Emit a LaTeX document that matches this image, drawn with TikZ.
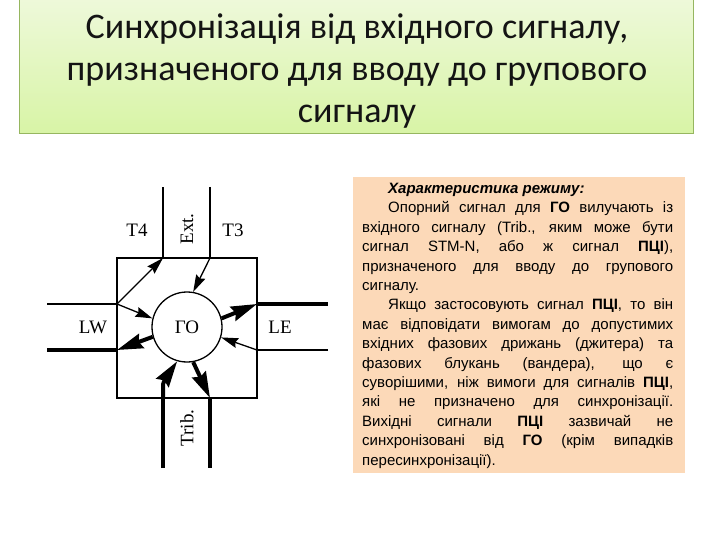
\documentclass[tikz,border=0pt]{standalone}
\usepackage{fontspec}
\setmainfont{Liberation Serif}
\newfontfamily\titlefont{Carlito}
\newfontfamily\panelfont{Liberation Sans}
\usetikzlibrary{arrows.meta}
\definecolor{titletop}{RGB}{238,249,218}
\definecolor{titlebot}{RGB}{216,244,166}
\definecolor{titleline}{RGB}{150,182,96}
\definecolor{panelfill}{RGB}{252,217,184}
\tikzset{
  sig/.style={line width=1.3pt},
  bus/.style={line width=4pt},
  sigarr/.style={sig, -{Stealth[length=17pt,width=10pt,inset=2pt]}},
  busarr/.style={line width=4pt, -{Stealth[length=26pt,width=15pt,inset=3pt]}},
  lbl/.style={font=\fontsize{19}{19}\selectfont, inner sep=0pt},
}
\begin{document}
\begin{tikzpicture}[x=1pt,y=-1pt]
			\useasboundingbox (0,0) rectangle (720,540);
			% title
			\draw[titleline, top color=titletop, bottom color=titlebot] (19,-2) rectangle (693,133);
			\node[font=\titlefont\fontsize{36}{42}\selectfont, align=center, text=black!92] (title) at (357,71)
				{Синхронізація від вхідного сигналу,\\ призначеного для вводу до групового\\ сигналу};
			% block
			\node[draw, line width=1.5pt, minimum size=140pt, inner sep=0pt] (blk) at (187,328) {};
			\node[draw, sig, circle, minimum size=70pt, inner sep=0pt, font=\fontsize{19}{19}\selectfont] (go) at (187,327) {ГО};
			\coordinate (t4) at (163,258);   \coordinate (t4out) at (163,187);
			\coordinate (t3) at (210,258);   \coordinate (t3in) at (210,187);
			\coordinate (lwa) at (117,304);  \coordinate (lwin) at (47,304);
			\coordinate (lwb) at (117,350);  \coordinate (lwout) at (47,350);
			\coordinate (lea) at (257,304);  \coordinate (leout) at (328,304);
			\coordinate (leb) at (257,350);  \coordinate (lein) at (328,350);
			\coordinate (triba) at (163,398); \coordinate (tribin) at (163,468);
			\coordinate (tribb) at (210,398); \coordinate (tribout) at (210,468);
			\draw[sig] (t4) -- (t4out);
			\draw[sig] (t3in) -- (t3);
			\draw[sig] (lwin) -- (lwa);
			\draw[bus] (lwb) -- (lwout);
			\draw[bus] (lea) -- (leout);
			\draw[sig] (lein) -- (leb);
			\draw[bus] (tribin) -- (triba);
			\draw[bus] (tribb) -- (tribout);
			%
			\draw[sigarr] (lwa) -- (t4);
			\draw[sigarr] (t3) -- (go.80);
			\draw[sigarr] (lwa) -- (go.166);
			\draw[sigarr] (leb) -- (go.343);
			\draw[busarr] (go.196) -- (lwb);
			\draw[busarr] (go.14) -- (lea);
			\draw[busarr] (triba) .. controls +(0,-16) .. (go.254);
			\draw[busarr] (go.280) -- (tribb);
			%
			\node[lbl] (t4lbl) at (137,230) {T4};
			\node[lbl, rotate=90] (extlbl) at (187,229) {Ext.};
			\node[lbl] (t3lbl) at (233,230) {T3};
			\node[lbl] (lwlbl) at (93,327) {LW};
			\node[lbl] (lelbl) at (280,327) {LE};
			\node[lbl, rotate=90] (triblbl) at (187,428) {Trib.};
			% mode text
			\fill[panelfill] (353,177) rectangle (685,473);
			\node[anchor=north west, text width=311pt, inner sep=0pt, align=justify,
				font=\panelfont\fontsize{15}{19.4}\selectfont] (mode) at (362,183)
				{\hyphenpenalty=10000\exhyphenpenalty=10000\tolerance=10000\parindent=0pt
				\hspace*{26pt}\textbf{\textit{Характеристика режиму:}}\newline
				\hspace*{26pt}Опорний сигнал для \textbf{ГО} вилучають із\linebreak
				вхідного сигналу (Trib., яким може бути\linebreak
				сигнал STM-N, або ж сигнал \textbf{ПЦІ}),\linebreak
				призначеного для вводу до групового\linebreak
				сигналу.\par
				\hspace*{26pt}Якщо застосовують сигнал \textbf{ПЦІ}, то він\linebreak
				має відповідати вимогам до допустимих\linebreak
				вхідних фазових дрижань (джитера) та\linebreak
				фазових блукань (вандера), що є\linebreak
				суворішими, ніж вимоги для сигналів \textbf{ПЦІ},\linebreak
				які не призначено для синхронізації.\linebreak
				Вихідні сигнали \textbf{ПЦІ} зазвичай не\linebreak
				синхронізовані від \textbf{ГО} (крім випадків\linebreak
				пересинхронізації).};
		\end{tikzpicture}
\end{document}
